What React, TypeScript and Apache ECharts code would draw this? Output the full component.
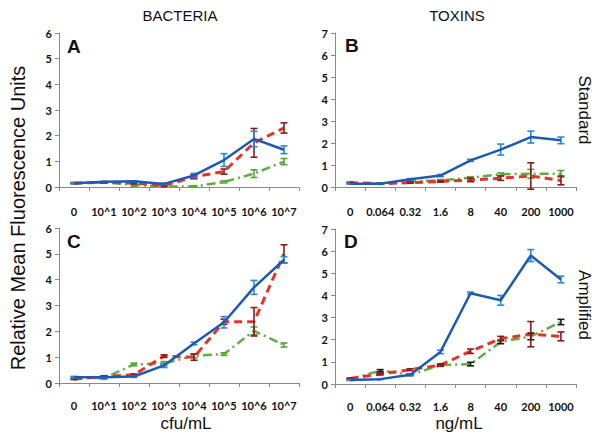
import React, { useEffect, useRef } from "react";
import * as echarts from "echarts";

const bacteriaCats = ["0", "10^1", "10^2", "10^3", "10^4", "10^5", "10^6", "10^7"];
const toxinCats = ["0", "0.064", "0.32", "1.6", "8", "40", "200", "1000"];

// Panel A (bacteria, standard)
const aBlue = [0.15, 0.2, 0.22, 0.12, 0.45, 1.05, 1.87, 1.45];
const aBlueErr = [0.02, 0.02, 0.02, 0.03, 0.08, 0.25, 0.3, 0.15];
const aRed = [0.15, 0.18, 0.15, 0.05, 0.4, 0.6, 1.72, 2.3];
const aRedErr = [0.02, 0.02, 0.03, 0.03, 0.08, 0.1, 0.56, 0.2];
const aGreen = [0.15, 0.18, 0.08, 0.02, 0.02, 0.2, 0.52, 0.99];
const aGreenErr = [0.02, 0.02, 0.05, 0.03, 0.03, 0.04, 0.15, 0.12];

// Panel B (toxins, standard)
const bBlue = [0.15, 0.15, 0.35, 0.52, 1.21, 1.7, 2.27, 2.12];
const bBlueErr = [0.02, 0.02, 0.03, 0.05, 0.05, 0.25, 0.27, 0.15];
const bRed = [0.2, 0.15, 0.2, 0.25, 0.32, 0.4, 0.5, 0.3];
const bRedErr = [0.02, 0.02, 0.03, 0.03, 0.08, 0.1, 0.6, 0.2];
const bGreen = [0.15, 0.15, 0.25, 0.3, 0.42, 0.58, 0.6, 0.6];
const bGreenErr = [0.02, 0.02, 0.03, 0.04, 0.05, 0.06, 0.2, 0.15];

// Panel C (bacteria, amplified)
const cBlue = [0.22, 0.22, 0.25, 0.68, 1.53, 2.35, 3.7, 4.77];
const cBlueErr = [0.03, 0.03, 0.03, 0.08, 0.05, 0.22, 0.27, 0.12];
const cRed = [0.15, 0.25, 0.32, 1.04, 1.0, 2.37, 2.37, 5.0];
const cRedErr = [0.02, 0.03, 0.03, 0.05, 0.12, 0.1, 0.55, 0.35];
const cGreen = [0.22, 0.18, 0.72, 0.75, 1.05, 1.12, 2.02, 1.47];
const cGreenErr = [0.03, 0.04, 0.05, 0.08, 0.08, 0.05, 0.15, 0.08];

// Panel D (toxins, amplified)
const dBlue = [0.18, 0.22, 0.42, 1.45, 4.1, 3.78, 5.8, 4.72];
const dBlueErr = [0.02, 0.02, 0.04, 0.08, 0.05, 0.22, 0.27, 0.15];
const dRed = [0.25, 0.45, 0.65, 0.85, 1.48, 2.05, 2.25, 2.15];
const dRedErr = [0.02, 0.04, 0.04, 0.05, 0.1, 0.1, 0.57, 0.2];
const dGreen = [0.22, 0.6, 0.42, 0.85, 0.9, 1.9, 2.15, 2.8];
const dGreenErr = [0.03, 0.05, 0.04, 0.05, 0.08, 0.08, 0.15, 0.12];

const BLUE = "#1d5bb3";
const BLUE_BAR = "#2f88d3";
const RED = "#e5332a";
const RED_BAR = "#8c1a1c";
const GREEN = "#63ad45";
const GREEN_BAR = "#55a636";

const FONT = "Lato";

export default function App() {
  const ref = useRef<HTMLDivElement>(null);
  useEffect(() => {
    if (!ref.current) return;
    const chart = echarts.init(ref.current, null, { renderer: "svg" });

    const grids = [
      { left: 59, top: 33, width: 240, height: 154 },
      { left: 335, top: 33, width: 241, height: 154 },
      { left: 59, top: 228, width: 240, height: 155 },
      { left: 335, top: 229, width: 241, height: 155 },
    ];
    const cats = [bacteriaCats, toxinCats, bacteriaCats, toxinCats];
    const ymax = [6, 7, 6, 7];

    const panels = [
      { b: aBlue, be: aBlueErr, r: aRed, re: aRedErr, g: aGreen, ge: aGreenErr, gbar: GREEN_BAR },
      { b: bBlue, be: bBlueErr, r: bRed, re: bRedErr, g: bGreen, ge: bGreenErr, gbar: GREEN_BAR },
      { b: cBlue, be: cBlueErr, r: cRed, re: cRedErr, g: cGreen, ge: cGreenErr, gbar: GREEN_BAR },
      { b: dBlue, be: dBlueErr, r: dRed, re: dRedErr, g: dGreen, ge: dGreenErr, gbar: "#1a1a1a" },
    ];

    const axisLine = { show: true, lineStyle: { color: "#8a8a8a", width: 1 } };
    const xAxis = grids.map((_, i) => ({
      type: "category",
      gridIndex: i,
      data: cats[i],
      boundaryGap: true,
      axisLine,
      axisTick: { show: true, length: 4, lineStyle: { color: "#8a8a8a" } },
      axisLabel: {
        interval: 0,
        margin: i < 2 ? 19 : 17,
        fontFamily: FONT,
        fontWeight: "bold",
        fontSize: 11,
        color: "#111",
      },
      splitLine: { show: false },
    }));
    const yAxis = grids.map((_, i) => ({
      type: "value",
      gridIndex: i,
      min: 0,
      max: ymax[i],
      interval: 1,
      axisLine,
      axisTick: { show: true, length: 4, lineStyle: { color: "#8a8a8a" } },
      axisLabel: {
        margin: 7,
        fontFamily: FONT,
        fontWeight: "bold",
        fontSize: 11,
        color: "#111",
      },
      splitLine: { show: false },
    }));

    const errSeries = (vals: number[], errs: number[], color: string, idx: number) => ({
      type: "custom",
      xAxisIndex: idx,
      yAxisIndex: idx,
      z: 3,
      silent: true,
      data: vals.map((v, k) => [k, v - errs[k], v + errs[k]]),
      renderItem: (_p: any, api: any) => {
        const lo = api.coord([api.value(0), api.value(1)]);
        const hi = api.coord([api.value(0), api.value(2)]);
        const w = 3.5;
        const st = { stroke: color, lineWidth: 1.6 };
        return {
          type: "group",
          children: [
            { type: "line", shape: { x1: lo[0], y1: lo[1], x2: hi[0], y2: hi[1] }, style: st },
            { type: "line", shape: { x1: lo[0] - w, y1: lo[1], x2: lo[0] + w, y2: lo[1] }, style: st },
            { type: "line", shape: { x1: hi[0] - w, y1: hi[1], x2: hi[0] + w, y2: hi[1] }, style: st },
          ],
        };
      },
    });

    const lineSeries = (vals: number[], color: string, type: any, width: number, idx: number, z: number) => ({
      type: "line",
      xAxisIndex: idx,
      yAxisIndex: idx,
      data: vals,
      symbol: "none",
      z,
      lineStyle: { color, width, type },
    });

    const series: any[] = [];
    panels.forEach((p, i) => {
      series.push(lineSeries(p.g, GREEN, [9, 4, 2, 4], 2.5, i, 2));
      series.push(errSeries(p.g, p.ge, p.gbar, i));
      series.push(lineSeries(p.r, RED, [8, 5], 3, i, 2));
      series.push(errSeries(p.r, p.re, RED_BAR, i));
      series.push(lineSeries(p.b, BLUE, "solid", 2.5, i, 4));
      series.push(errSeries(p.b, p.be, BLUE_BAR, i));
    });

    const letter = (t: string, x: number, y: number) => ({
      type: "text",
      x,
      y,
      style: { text: t, font: "bold 19px 'Liberation Sans'", fill: "#111" },
    });

    chart.setOption({
      animation: false,
      backgroundColor: "#fff",
      grid: grids,
      xAxis,
      yAxis,
      series,
      graphic: [
        letter("A", 67, 37),
        letter("B", 345, 36),
        letter("C", 67, 232),
        letter("D", 344, 232),
        {
          type: "text",
          x: 180,
          y: 15,
          style: { text: "BACTERIA", font: "15px 'Liberation Sans'", fill: "#111", align: "center", verticalAlign: "middle" },
        },
        {
          type: "text",
          x: 457,
          y: 15,
          style: { text: "TOXINS", font: "15px 'Liberation Sans'", fill: "#111", align: "center", verticalAlign: "middle" },
        },
        {
          type: "text",
          x: 186,
          y: 423,
          style: { text: "cfu/mL", font: "17px 'Liberation Sans'", fill: "#111", align: "center", verticalAlign: "middle" },
        },
        {
          type: "text",
          x: 459,
          y: 423,
          style: { text: "ng/mL", font: "17px 'Liberation Sans'", fill: "#111", align: "center", verticalAlign: "middle" },
        },
        {
          type: "text",
          x: 18,
          y: 218,
          rotation: Math.PI / 2,
          style: {
            text: "Relative Mean Fluorescence Units",
            font: "20px 'Liberation Sans'",
            fill: "#111",
            align: "center",
            verticalAlign: "middle",
          },
        },
        {
          type: "text",
          x: 584,
          y: 110,
          rotation: -Math.PI / 2,
          style: { text: "Standard", font: "17px 'Liberation Sans'", fill: "#111", align: "center", verticalAlign: "middle" },
        },
        {
          type: "text",
          x: 584,
          y: 305,
          rotation: -Math.PI / 2,
          style: { text: "Amplified", font: "17px 'Liberation Sans'", fill: "#111", align: "center", verticalAlign: "middle" },
        },
      ],
    });
    return () => chart.dispose();
  }, []);
  return <div ref={ref} style={{ position: "fixed", left: 0, top: 0, width: 602, height: 436 }} />;
}
